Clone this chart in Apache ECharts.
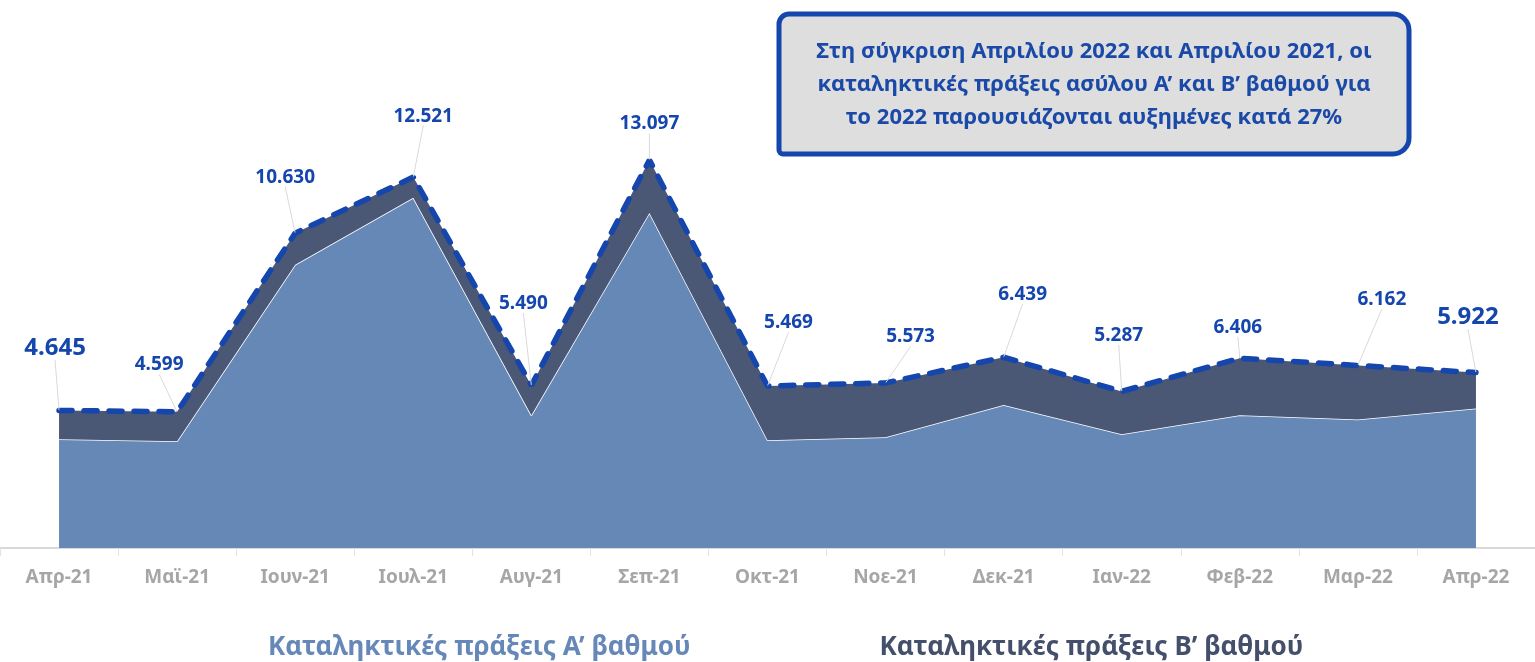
<!DOCTYPE html>
<html>
<head>
<meta charset="utf-8">
<script src="https://cdn.jsdelivr.net/npm/echarts@6/dist/echarts.min.js"></script>
<style>
  html, body { margin: 0; padding: 0; background: #fff; }
  #chart { width: 1535px; height: 662px; }
</style>
</head>
<body>
<div id="chart"></div>
<script>
// μήνες
var months = ['Απρ-21', 'Μαϊ-21', 'Ιουν-21', 'Ιουλ-21', 'Αυγ-21', 'Σεπ-21', 'Οκτ-21',
              'Νοε-21', 'Δεκ-21', 'Ιαν-22', 'Φεβ-22', 'Μαρ-22', 'Απρ-22'];
// Α' βαθμού (εκτίμηση από το γράφημα)
var firstDegree = [3670, 3600, 9560, 11820, 4480, 11310, 3640, 3740, 4830, 3840, 4480, 4340, 4710];
// Β' βαθμού
var secondDegree = [975, 999, 1070, 701, 1010, 1787, 1829, 1833, 1609, 1447, 1926, 1822, 1212];
// σύνολα (ετικέτες)
var totals = [4645, 4599, 10630, 12521, 5490, 13097, 5469, 5573, 6439, 5287, 6406, 6162, 5922];

var nameA = 'Καταληκτικές πράξεις Α’ βαθμού';
var nameB = 'Καταληκτικές πράξεις Β’ βαθμού';

// μετατόπιση ετικετών
var labelDx = [-4, -18, -10, 10, -8, 0, 21, 25, 19, -3, -2, 24, -8];
var labelDy = [-45, -32, -41, -46, -67, -21, -48, -31, -48, -41, -16, -51, -38];

var font = '"Noto Sans", sans-serif';
var blue = '#1446ad';

function fmt(v) {
    return String(v).replace(/\B(?=(\d{3})+(?!\d))/g, '.');
}

var myChart = echarts.init(document.getElementById('chart'));

var option = {
    animation: false,
    grid: { left: 0, right: 0, top: 0, bottom: 114 },
    legend: {
        bottom: -4,
        left: 258,
        icon: 'none',
        itemWidth: 0,
        itemHeight: 0,
        itemGap: 184,
        selectedMode: false,
        data: [
            { name: nameA, textStyle: { color: '#6688b8' } },
            { name: nameB, textStyle: { color: '#44506b' } }
        ],
        textStyle: { fontFamily: font, fontSize: 26, fontWeight: 'bold' }
    },
    xAxis: {
        type: 'category',
        data: months,
        boundaryGap: true,
        axisLine: { lineStyle: { color: '#d9d9d9', width: 2 } },
        axisTick: { show: true, length: 8, lineStyle: { color: '#e3e3e3' } },
        axisLabel: {
            color: '#a6a6a6', fontFamily: font, fontSize: 19, fontWeight: 'bold', margin: 20
        },
        splitLine: { show: false }
    },
    yAxis: {
        type: 'value',
        min: 0,
        max: 18500,
        show: false,
        splitLine: { show: false }
    },
    series: [
        {
            name: nameA,
            type: 'line',
            stack: 'total',
            data: firstDegree,
            symbol: 'none',
            lineStyle: { color: '#ffffff', width: 1.5 },
            itemStyle: { color: '#6688b8' },
            areaStyle: { color: '#6588b7', opacity: 1 },
            z: 2
        },
        {
            name: nameB,
            type: 'line',
            stack: 'total',
            data: secondDegree,
            symbol: 'circle',
            symbolSize: 1,
            itemStyle: { color: '#44506b' },
            lineStyle: { color: blue, width: 5.5, type: [13, 12], cap: 'round' },
            areaStyle: { color: '#4a5775', opacity: 1 },
            label: {
                show: true,
                position: 'top',
                color: blue,
                fontFamily: font,
                fontWeight: 'bold',
                fontSize: 19,
                formatter: function (p) {
                    return fmt(totals[p.dataIndex]);
                }
            },
            labelLine: {
                show: true,
                lineStyle: { color: '#d9d9d9', width: 1 }
            },
            labelLayout: function (p) {
                return { dx: labelDx[p.dataIndex], dy: labelDy[p.dataIndex] };
            },
            z: 3
        }
    ],
    graphic: [
        {
            type: 'rect',
            shape: { x: 779, y: 14, width: 630, height: 140, r: [10, 16, 16, 4] },
            style: { fill: '#dedede', stroke: '#1446ad', lineWidth: 5 },
            z: 10
        },
        {
            type: 'text',
            x: 1094,
            y: 85,
            style: {
                text: 'Στη σύγκριση Απριλίου 2022 και Απριλίου 2021, οι\nκαταληκτικές πράξεις ασύλου Α’ και Β’ βαθμού για\nτο 2022 παρουσιάζονται αυξημένες κατά 27%',
                fill: '#1a49a8',
                font: 'bold 22px ' + font,
                lineHeight: 33,
                align: 'center',
                verticalAlign: 'middle'
            },
            z: 11
        }
    ]
};

// πρώτη και τελευταία ετικέτα μεγαλύτερη
option.series[1].data = secondDegree.map(function (v, i) {
    if (i === 0 || i === secondDegree.length - 1) {
        return { value: v, label: { fontSize: 24 } };
    }
    return v;
});

myChart.setOption(option);
</script>
</body>
</html>
